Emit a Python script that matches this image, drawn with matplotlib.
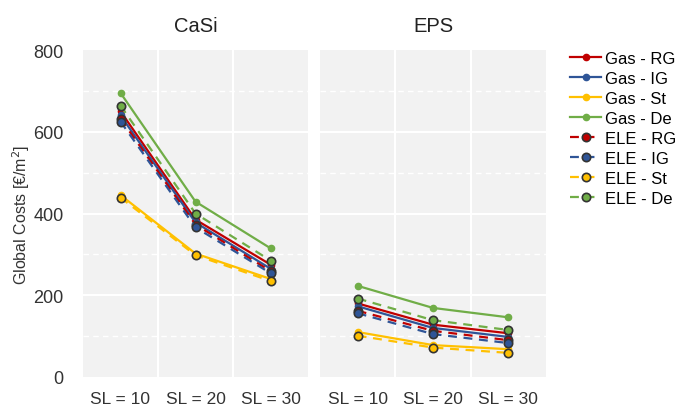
import matplotlib.pyplot as plt
from matplotlib.lines import Line2D

plt.rcParams['font.family'] = ['Liberation Sans', 'DejaVu Sans']

categories = ['SL = 10', 'SL = 20', 'SL = 30']
series = ['RG', 'IG', 'St', 'De']
colors = {'RG': '#c00000', 'IG': '#2f5597', 'St': '#ffc000', 'De': '#70ad47'}

# CaSi panel
casi_gas = {'RG': [650, 385, 275], 'IG': [640, 378, 265],
            'St': [445, 302, 240], 'De': [695, 429, 315]}
casi_ele = {'RG': [632, 373, 259], 'IG': [625, 366, 254],
            'St': [439, 298, 235], 'De': [664, 400, 285]}

# EPS panel
eps_gas = {'RG': [180, 128, 107], 'IG': [173, 120, 98],
           'St': [110, 78, 68], 'De': [223, 169, 146]}
eps_ele = {'RG': [162, 113, 90], 'IG': [156, 105, 83],
           'St': [101, 72, 59], 'De': [192, 139, 115]}

fig = plt.figure(figsize=(6.78, 4.10), dpi=100)
W, H = 678, 410
ax1 = fig.add_axes([83 / W, 32 / H, 225 / W, 327 / H])
ax2 = fig.add_axes([320 / W, 32 / H, 226 / W, 327 / H])

x = list(range(len(categories)))

for ax, gas, ele, title in [(ax1, casi_gas, casi_ele, 'CaSi'), (ax2, eps_gas, eps_ele, 'EPS')]:
    ax.set_facecolor('#f2f2f2')
    ax.set_xlim(-0.5, 2.5)
    ax.set_ylim(0, 800)
    for yv in [200, 400, 600]:
        ax.axhline(yv, color='white', lw=1.5, zorder=1)
    for yv in [100, 300, 500, 700]:
        ax.axhline(yv, color='white', lw=1.0, ls=(0, (4, 3)), zorder=1)
    for xv in [0.5, 1.5]:
        ax.axvline(xv, color='white', lw=1.5, zorder=1)
    for s in series:
        ax.plot(x, gas[s], color=colors[s], lw=1.6, marker='o', ms=4.5,
                mec=colors[s], zorder=3)
    for s in series:
        ax.plot(x, ele[s], color=colors[s], lw=1.6, ls=(0, (4, 3)), marker='o', ms=6,
                mfc=colors[s], mec='#333333', mew=1.2, zorder=4)
    ax.set_xticks(x)
    ax.set_xticklabels(categories, fontsize=12.5)
    ax.tick_params(axis='both', length=0, labelcolor='#333333')
    ax.tick_params(axis='x', pad=10)
    for sp in ax.spines.values():
        sp.set_visible(False)
    ax.set_title(title, fontsize=14.5, pad=14, color='#222222')

ax1.set_yticks([0, 200, 400, 600, 800])
ax1.tick_params(axis='y', labelsize=13, pad=14)
ax1.set_ylabel('Global Costs [€/m$^2$]', fontsize=11.5, color='#333333', labelpad=1)
ax2.set_yticks([])

handles = []
labels = []
for s in series:
    handles.append(Line2D([], [], color=colors[s], lw=1.6, marker='o', ms=4.5))
    labels.append('Gas - ' + s)
for s in series:
    handles.append(Line2D([], [], color=colors[s], lw=1.6, ls=(0, (4, 3)), marker='o', ms=6,
                          mec='#333333', mew=1.2))
    labels.append('ELE - ' + s)
fig.legend(handles, labels, loc='upper left', bbox_to_anchor=(563 / W, 1 - 45 / H),
           frameon=False, fontsize=12, handlelength=1.9, handletextpad=0.2,
           labelspacing=0.3, borderaxespad=0)

fig.savefig('out.png', dpi=100)
